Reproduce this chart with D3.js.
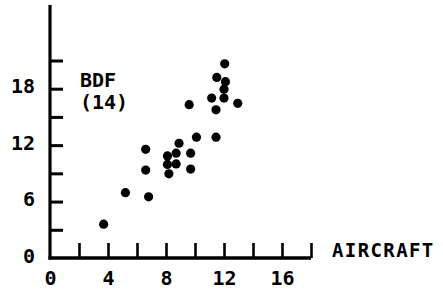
<!DOCTYPE html>
<html lang="en">
    <head>
        <meta charset="UTF-8" />
        <title>BDF vs Aircraft</title>
        <style>
          body { margin: 0; background: #fff; }
          svg text { font-family: "DejaVu Sans Mono", monospace; font-weight: bold; fill: #000; }
        </style>
    </head>
    <body>
        <script src="https://cdn.jsdelivr.net/npm/d3@7"></script>
        <div id="app"></div>
        <script>
        // data
          const aircraft = [3.7, 5.2, 6.6, 6.6, 6.8, 8.1, 8.7, 8.1, 8.7, 8.2, 8.9, 9.7,
                            9.7, 10.1, 9.6, 11.45, 11.15, 12.0, 11.45, 12.05, 11.5, 12.1, 12.0, 12.95];
          const bdf = [3.6, 6.95, 11.55, 9.35, 6.5, 10.85, 11.15, 9.95, 10.0, 8.95, 12.2, 11.15,
                       9.45, 12.85, 16.3, 12.85, 17.0, 17.0, 15.75, 20.65, 19.2, 18.75, 17.95, 16.45];
          const xTicks = [2, 4, 6, 8, 10, 12, 14, 16, 18];
          const xLabels = [0, 4, 8, 12, 16];
          const yTicks = [3, 6, 9, 12, 15, 18, 21];
          const yLabels = [0, 6, 12, 18];
          const points = aircraft.map((a, i) => ({ x: a, y: bdf[i] }));

          const w = 443;
          const h = 290;

          const svg = d3.select("#app")
            .append("svg")
            .attr("width", w)
            .attr("height", h);

        // scales
          const xScale = d3.scaleLinear()
            .domain([0, 18])
            .range([50, 311]);

          const yScale = d3.scaleLinear()
            .domain([0, 26.9])
            .range([258, 5]);

        // tick marks
          const xTickAxis = d3.axisBottom(xScale)
            .tickValues(xTicks)
            .tickSize(-15)
            .tickFormat("");

          const yTickAxis = d3.axisLeft(yScale)
            .tickValues(yTicks)
            .tickSize(-13)
            .tickFormat("");

          svg.append("g")
            .attr("transform", "translate(0," + yScale(0) + ")")
            .call(xTickAxis)
            .call(g => g.select(".domain").remove())
            .selectAll("line")
            .attr("stroke", "#000")
            .attr("stroke-width", 2.6);

          svg.append("g")
            .attr("transform", "translate(" + xScale(0) + ",0)")
            .call(yTickAxis)
            .call(g => g.select(".domain").remove())
            .selectAll("line")
            .attr("stroke", "#000")
            .attr("stroke-width", 3);

        // tick labels
          const xLabelAxis = d3.axisBottom(xScale)
            .tickValues(xLabels)
            .tickSize(0)
            .tickPadding(13);

          const yLabelAxis = d3.axisLeft(yScale)
            .tickValues(yLabels)
            .tickSize(0)
            .tickPadding(15);

          svg.append("g")
            .attr("transform", "translate(0," + yScale(0) + ")")
            .call(xLabelAxis)
            .call(g => g.select(".domain").remove())
            .selectAll("text")
            .attr("font-family", null)
            .attr("font-size", 20);

          svg.append("g")
            .attr("transform", "translate(" + xScale(0) + ",0)")
            .call(yLabelAxis)
            .call(g => g.select(".domain").remove())
            .selectAll("text")
            .attr("font-family", null)
            .attr("font-size", 20)
            .attr("dy", "0.2em");

        // axis lines
          svg.append("line")
            .attr("x1", xScale(0))
            .attr("x2", xScale(0))
            .attr("y1", yScale(0) + 1.5)
            .attr("y2", yScale(26.9))
            .attr("stroke", "#000")
            .attr("stroke-width", 3.2);

          svg.append("line")
            .attr("x1", xScale(0) - 1.5)
            .attr("x2", xScale(18))
            .attr("y1", yScale(0))
            .attr("y2", yScale(0))
            .attr("stroke", "#000")
            .attr("stroke-width", 3.5);

        // points
          svg.selectAll("circle")
            .data(points)
            .enter()
            .append("circle")
            .attr("cx", d => xScale(d.x))
            .attr("cy", d => yScale(d.y))
            .attr("r", 4.6)
            .attr("fill", "#000");

        // titles
          svg.append("text")
            .attr("x", 80)
            .attr("y", 87)
            .attr("font-size", 20)
            .text("BDF");

          svg.append("text")
            .attr("x", 80)
            .attr("y", 109)
            .attr("font-size", 20)
            .text("(14)");

          svg.append("text")
            .attr("x", 332)
            .attr("y", 257)
            .attr("font-size", 19)
            .attr("letter-spacing", 1.4)
            .text("AIRCRAFT");
        </script>
    </body>
</html>
